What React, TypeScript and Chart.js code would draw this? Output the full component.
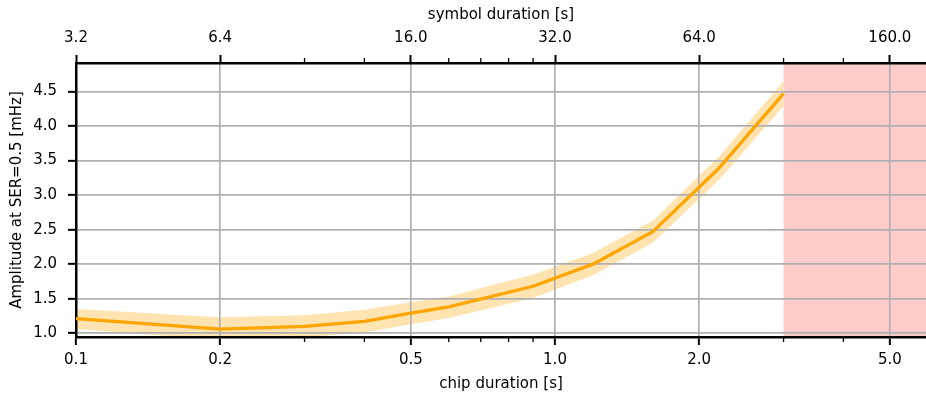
import React, { useEffect, useRef } from 'react';
import { Chart, registerables } from 'chart.js';

Chart.register(...registerables);

// ---- data ----
const CHIP_DURATION = [0.1, 0.2, 0.3, 0.4, 0.5, 0.6, 0.9, 1.2, 1.6, 2.2, 3.0];
const AMP_MEAN = [1.21, 1.06, 1.1, 1.17, 1.29, 1.38, 1.68, 2.0, 2.47, 3.39, 4.47];
const AMP_UPPER = [1.35, 1.23, 1.26, 1.34, 1.45, 1.53, 1.85, 2.16, 2.63, 3.56, 4.65];
const AMP_LOWER = [1.06, 0.9, 0.94, 1.01, 1.13, 1.22, 1.51, 1.84, 2.31, 3.22, 4.29];

const X_MAJOR_TICKS = [0.1, 0.2, 0.5, 1.0, 2.0, 5.0];
const X_MINOR_TICKS = [0.3, 0.4, 0.6, 0.7, 0.8, 0.9, 3.0, 4.0];
const Y_TICKS = [1.0, 1.5, 2.0, 2.5, 3.0, 3.5, 4.0, 4.5];
const CHIPS_PER_SYMBOL = 32;
const SHADE_FROM = 3.0;

const X_MIN = 0.1;
const X_MAX = 5.95;
const Y_MIN = 0.945;
const Y_MAX = 4.913;

const FONT = { family: "'DejaVu Sans', sans-serif", size: 15, lineHeight: 1.2 };

export default function App() {
  const ref = useRef<HTMLCanvasElement | null>(null);

  useEffect(() => {
    document.body.style.margin = '0';
    const canvas = ref.current;
    if (!canvas) return;

    const toPts = (ys: number[]) => CHIP_DURATION.map((x, i) => ({ x, y: ys[i] }));

    const shadePlugin = {
      id: 'shadeRegion',
      beforeDraw(chart: any) {
        const { ctx, chartArea } = chart;
        const xs = chart.scales.x;
        const x0 = xs.getPixelForValue(SHADE_FROM);
        ctx.save();
        ctx.fillStyle = 'rgba(255,0,0,0.2)';
        ctx.fillRect(x0, chartArea.top, chartArea.right - x0, chartArea.bottom - chartArea.top);
        ctx.restore();
      },
    };

    const minorTicksPlugin = {
      id: 'minorTicks',
      afterDraw(chart: any) {
        const { ctx, chartArea } = chart;
        const xs = chart.scales.x;
        ctx.save();
        ctx.strokeStyle = '#000';
        ctx.lineWidth = 1.3;
        for (const v of X_MINOR_TICKS) {
          const px = xs.getPixelForValue(v);
          if (px < chartArea.left || px > chartArea.right) continue;
          ctx.beginPath();
          ctx.moveTo(px, chartArea.bottom);
          ctx.lineTo(px, chartArea.bottom + 5);
          ctx.moveTo(px, chartArea.top);
          ctx.lineTo(px, chartArea.top - 5);
          ctx.stroke();
        }
        ctx.restore();
      },
    };

    const chart = new Chart(canvas, {
      type: 'line',
      data: {
        datasets: [
          {
            label: 'mean',
            data: toPts(AMP_MEAN),
            borderColor: '#FFA500',
            borderWidth: 3.3,
            pointRadius: 0,
            fill: false,
            tension: 0,
          },
          {
            label: 'upper',
            data: toPts(AMP_UPPER),
            borderColor: 'rgba(0,0,0,0)',
            borderWidth: 1,
            pointRadius: 0,
            backgroundColor: 'rgba(255,165,0,0.3)',
            fill: '+1',
            tension: 0,
          },
          {
            label: 'lower',
            data: toPts(AMP_LOWER),
            borderColor: 'rgba(0,0,0,0)',
            borderWidth: 1,
            pointRadius: 0,
            fill: false,
            tension: 0,
          },
        ],
      },
      options: {
        responsive: false,
        animation: false,
        events: [],
        layout: { padding: 0 },
        plugins: {
          legend: { display: false },
          tooltip: { enabled: false },
          filler: { drawTime: 'beforeDraw' },
        },
        scales: {
          x: {
            type: 'logarithmic',
            position: 'bottom',
            min: X_MIN,
            max: X_MAX,
            bounds: 'data',
            afterBuildTicks: (s: any) => {
              s.ticks = X_MAJOR_TICKS.map((v) => ({ value: v }));
            },
            afterFit: (s: any) => {
              s.height = 66;
            },
            ticks: {
              autoSkip: false,
              maxRotation: 0,
              color: '#000',
              font: FONT,
              padding: 6.5,
              callback: (v: any) => Number(v).toFixed(1),
            },
            grid: {
              color: '#b0b0b0',
              lineWidth: 1.7,
              drawTicks: true,
              tickLength: 8,
              tickColor: '#000',
              tickWidth: 2,
            },
            border: { display: true, color: '#000', width: 2.5 },
            title: {
              display: true,
              text: 'chip duration [s]',
              color: '#000',
              font: FONT,
              padding: { top: 0, bottom: 10 },
            },
          },
          x2: {
            type: 'logarithmic',
            position: 'top',
            min: X_MIN,
            max: X_MAX,
            bounds: 'data',
            afterBuildTicks: (s: any) => {
              s.ticks = X_MAJOR_TICKS.map((v) => ({ value: v }));
            },
            afterFit: (s: any) => {
              s.height = 63;
            },
            ticks: {
              autoSkip: false,
              maxRotation: 0,
              color: '#000',
              font: FONT,
              padding: 8,
              callback: (v: any) => (Number(v) * CHIPS_PER_SYMBOL).toFixed(1),
            },
            grid: {
              display: true,
              drawOnChartArea: false,
              drawTicks: true,
              tickLength: 8,
              tickColor: '#000',
              tickWidth: 2,
            },
            border: { display: true, color: '#000', width: 2.5 },
            title: {
              display: true,
              text: 'symbol duration [s]',
              color: '#000',
              font: FONT,
              padding: { top: 6, bottom: 0 },
            },
          },
          y: {
            type: 'linear',
            position: 'left',
            min: Y_MIN,
            max: Y_MAX,
            afterBuildTicks: (s: any) => {
              s.ticks = Y_TICKS.map((v) => ({ value: v }));
            },
            afterFit: (s: any) => {
              s.width = 76;
            },
            ticks: {
              color: '#000',
              font: FONT,
              padding: 11,
              callback: (v: any) => Number(v).toFixed(1),
            },
            grid: {
              color: '#b0b0b0',
              lineWidth: 1.7,
              drawTicks: true,
              tickLength: 8,
              tickColor: '#000',
              tickWidth: 2,
            },
            border: { display: true, color: '#000', width: 2.5 },
            title: {
              display: true,
              text: 'Amplitude at SER=0.5 [mHz]',
              color: '#000',
              font: FONT,
              padding: { top: 8.5, bottom: 0 },
            },
          },
        },
      } as any,
      plugins: [shadePlugin, minorTicksPlugin],
    });

    return () => chart.destroy();
  }, []);

  return (
    <div style={{ width: 926, height: 403 }}>
      <canvas ref={ref} width={926} height={403} style={{ display: 'block' }} />
    </div>
  );
}
